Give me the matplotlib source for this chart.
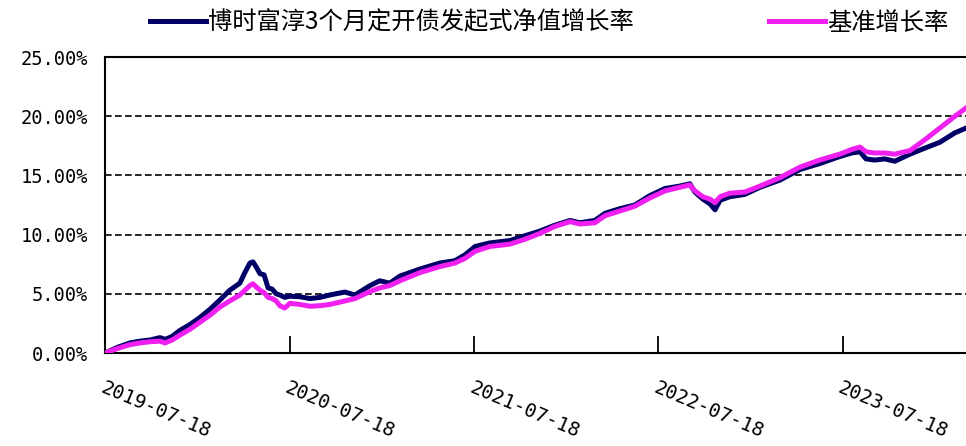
import numpy as np
import pandas as pd
import matplotlib
matplotlib.use('Agg')
import matplotlib.pyplot as plt
import matplotlib.dates as mdates

plt.rcParams['font.family'] = ['Noto Sans CJK SC', 'DejaVu Sans']

# values (percent)
dates = ['2019-07-18', '2019-08-13', '2019-09-05', '2019-09-25', '2019-10-15',
         '2019-11-04', '2019-11-14', '2019-11-28', '2019-12-13', '2020-01-02',
         '2020-01-22', '2020-02-11', '2020-03-02', '2020-03-21', '2020-04-10',
         '2020-04-20', '2020-04-30', '2020-05-06', '2020-05-12', '2020-05-20',
         '2020-05-28', '2020-06-05', '2020-06-13', '2020-06-21', '2020-06-28',
         '2020-07-08', '2020-07-18', '2020-08-07', '2020-08-27', '2020-09-16',
         '2020-10-05', '2020-11-04', '2020-11-24', '2020-12-24', '2021-01-12',
         '2021-02-01', '2021-02-21', '2021-04-02', '2021-05-11', '2021-06-10',
         '2021-06-30', '2021-07-20', '2021-08-18', '2021-09-27', '2021-10-26',
         '2021-11-25', '2021-12-25', '2022-01-24', '2022-02-12', '2022-03-14',
         '2022-04-03', '2022-05-03', '2022-06-01', '2022-07-01', '2022-07-31',
         '2022-08-29', '2022-09-18', '2022-09-28', '2022-10-14', '2022-10-28',
         '2022-11-07', '2022-11-17', '2022-12-06', '2023-01-05', '2023-02-04',
         '2023-03-15', '2023-04-24', '2023-06-02', '2023-07-12', '2023-08-05',
         '2023-08-21', '2023-09-02', '2023-09-19', '2023-10-09', '2023-10-29',
         '2023-11-28', '2023-12-27', '2024-01-26', '2024-02-25', '2024-03-18']

fund = [0.0, 0.5, 0.85, 1.0, 1.1, 1.3, 1.15, 1.4, 1.9, 2.4,
        3.0, 3.7, 4.5, 5.3, 5.9, 6.8, 7.6, 7.7, 7.3, 6.7,
        6.6, 5.5, 5.4, 5.0, 4.9, 4.7, 4.8, 4.75, 4.6, 4.7,
        4.9, 5.15, 4.9, 5.7, 6.1, 5.9, 6.5, 7.1, 7.6, 7.8,
        8.3, 9.0, 9.3, 9.5, 9.9, 10.3, 10.8, 11.2, 11.0, 11.2,
        11.8, 12.2, 12.5, 13.3, 13.9, 14.1, 14.3, 13.6, 13.0, 12.6,
        12.1, 12.9, 13.2, 13.4, 14.0, 14.6, 15.5, 16.0, 16.6, 16.9,
        17.0, 16.4, 16.3, 16.4, 16.2, 16.8, 17.3, 17.8, 18.6, 19.0]

bench = [0.0, 0.4, 0.7, 0.85, 0.95, 1.0, 0.85, 1.1, 1.5, 2.0,
         2.6, 3.2, 3.9, 4.4, 4.9, 5.3, 5.7, 5.85, 5.6, 5.3,
         5.1, 4.7, 4.6, 4.4, 4.0, 3.8, 4.2, 4.1, 3.95, 4.0,
         4.1, 4.4, 4.6, 5.2, 5.5, 5.7, 6.1, 6.8, 7.3, 7.6,
         8.0, 8.6, 9.0, 9.2, 9.6, 10.1, 10.7, 11.1, 10.9, 11.0,
         11.6, 12.0, 12.4, 13.1, 13.7, 14.0, 14.2, 13.7, 13.2, 13.0,
         12.7, 13.2, 13.5, 13.6, 14.1, 14.8, 15.7, 16.3, 16.8, 17.2,
         17.4, 17.0, 16.9, 16.9, 16.8, 17.1, 18.0, 19.0, 20.0, 20.7]

tick_dates = ['2019-07-18', '2020-07-18', '2021-07-18', '2022-07-18', '2023-07-18']
y_ticks = [0, 5, 10, 15, 20, 25]

df = pd.DataFrame({'date': pd.to_datetime(dates), 'fund': fund, 'bench': bench})

fig = plt.figure(figsize=(9.66, 4.46), dpi=100)
ax = fig.add_axes([0.1087, 0.2085, 0.8913, 0.6635])

ax.plot(df.date, df.fund, color='#000066', lw=3.6, label='博时富淳3个月定开债发起式净值增长率', zorder=3)
ax.plot(df.date, df.bench, color='#f020f0', lw=3.6, label='基准增长率', zorder=4)

ax.set_xlim(df.date.iloc[0], df.date.iloc[-1])
ax.set_ylim(0, 25)

# dashed grid lines
for v in y_ticks[1:-1]:
    ax.axhline(v, color='black', lw=1.2, ls=(0, (4, 2)), zorder=1)

ax.set_yticks(y_ticks)
ax.set_yticklabels(['%.2f%%' % v for v in y_ticks], family='DejaVu Sans Mono', fontsize=13.5)
ax.tick_params(axis='y', length=0, pad=12)

ax.set_xticks(pd.to_datetime(tick_dates))
ax.set_xticklabels(tick_dates, family='DejaVu Sans Mono', fontsize=14,
                   rotation=-23, ha='left', va='top', rotation_mode='anchor')
ax.tick_params(axis='x', direction='in', length=12, width=1.3, pad=18)

for s in ['left', 'bottom', 'top']:
    ax.spines[s].set_linewidth(1.5)
ax.spines['right'].set_visible(False)

ax.legend(ncol=2, loc='lower left', bbox_to_anchor=(0.041, 1.04), frameon=False,
          fontsize=17.5, handlelength=2.3, handletextpad=0.1, columnspacing=5.55,
          borderaxespad=0.0)

fig.savefig('out.png', dpi=100)
